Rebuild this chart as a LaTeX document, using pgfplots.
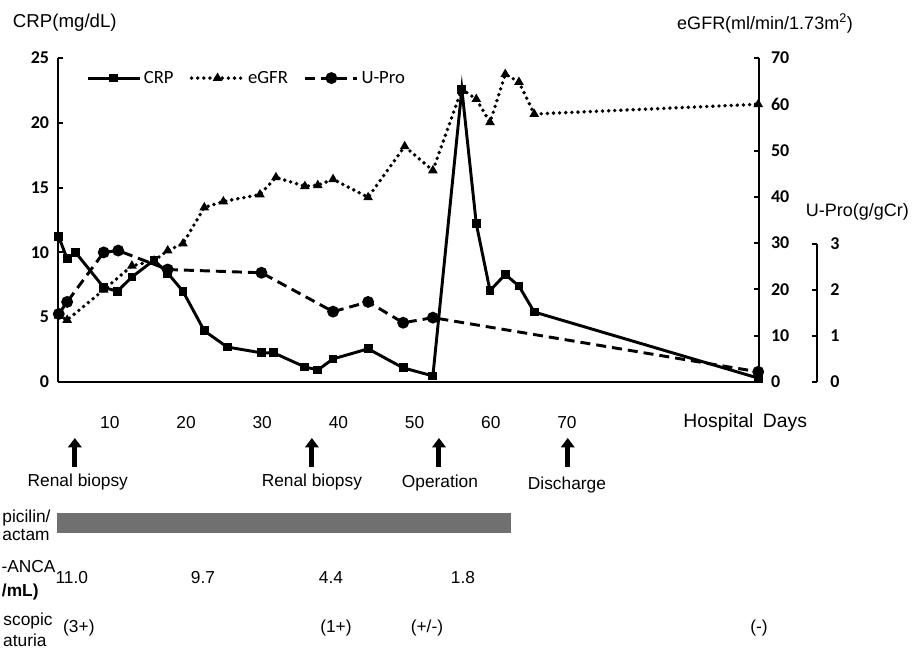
\documentclass[border=0pt]{standalone}
\usepackage{fontspec}
\setmainfont{Liberation Sans}
\newfontfamily\carlito{Carlito}
\usepackage{pgfplots}
\usepackage{pgfplotstable}
\pgfplotsset{compat=1.18}
\usetikzlibrary{arrows.meta}
\definecolor{bargray}{RGB}{112,112,112}

\pgfplotstableread{
day crp
3.3 11.2
4.4 9.5
5.5 10.0
9.2 7.3
11.0 7.0
12.9 8.1
15.8 9.4
17.6 8.4
19.6 7.0
22.4 3.95
25.4 2.7
29.9 2.25
31.5 2.25
35.6 1.16
37.3 0.93
39.3 1.78
43.9 2.56
48.5 1.09
52.4 0.47
56.2 22.6
58.1 12.2
59.9 7.05
61.9 8.3
63.7 7.4
65.7 5.4
95.1 0.3
}\crpdata

\pgfplotstableread{
day egfr
3.3 14.3
4.4 13.4
9.2 19.9
12.9 25.1
15.8 26.2
17.6 28.4
19.6 29.9
22.4 37.7
24.9 39.0
29.7 40.5
31.8 44.2
35.6 42.3
37.3 42.5
39.3 43.8
43.9 39.9
48.7 50.9
52.4 45.7
56.2 63.3
58.1 61.1
59.9 56.1
61.9 66.5
63.7 64.8
65.7 57.9
95.1 60.0
}\egfrdata

\pgfplotstableread{
day upro
3.3 1.47
4.4 1.73
9.2 2.80
11.1 2.84
17.6 2.43
29.9 2.36
39.3 1.52
43.9 1.73
48.5 1.28
52.4 1.39
95.1 0.22
}\uprodata

\pgfplotsset{
  base/.style={width=525.75pt,height=243pt,scale only axis,
    xmin=3.2,xmax=95.2,clip=false,
    /pgf/number format/assume math mode=true},
  crp/.style={black,line width=2.2pt,mark=square*,mark size=2.2pt,mark options={solid}},
  egfr/.style={black,line width=2.9pt,line cap=round,dash pattern=on 0pt off 4.6pt,
    mark=triangle*,mark size=3.2pt,mark options={solid,line cap=butt,line width=1pt}},
  upro/.style={black,line width=2.2pt,dash pattern=on 7.5pt off 4.5pt,
    mark=*,mark size=3.3pt,mark options={solid}},
  yaxstyle/.style={axis line style={line width=1.5pt},tick align=inside,
    major tick length=3.75pt,tick style={line width=1.5pt,black},
    yticklabel style={font=\carlito\bfseries\fontsize{13.5}{15}\selectfont}},
}

\begin{document}
\begin{tikzpicture}
\begin{axis}[base,yaxstyle,
  ymin=0,ymax=25,
  axis x line*=bottom, axis y line*=left,
  ytick={0,5,...,25},
  xtick={10,20,...,70},
  every x tick/.append style={draw=none},
  xticklabel style={anchor=center,yshift=-30.75pt,font=\fontsize{13}{15}\selectfont},
  yticklabel style={xshift=-3.2pt},
  legend style={draw=none,fill=none,at={(0.04,0.938)},anchor=west,
    legend columns=3,font=\carlito\fontsize{14}{16}\selectfont,inner sep=0pt,
    /tikz/every even column/.append style={column sep=10pt}},
  legend image code/.code={\draw[mark repeat=2,mark phase=2,#1] plot coordinates {(0pt,0pt) (19.5pt,0pt) (39pt,0pt)};},
]
\addplot[crp] table[x=day,y=crp]{\crpdata};
\addlegendentry{CRP}
\addlegendimage{egfr}
\addlegendentry{eGFR}
\addlegendimage{upro}
\addlegendentry{U-Pro}

% axis titles
\node[font=\fontsize{14}{16}\selectfont] at (axis cs:4.10,27.7) {CRP(mg/dL)};
\node[font=\fontsize{13.5}{15}\selectfont] at (axis cs:96.0,27.7) {eGFR(ml/min/1.73m\textsuperscript{2})};
\node[font=\fontsize{13.5}{15}\selectfont] at (axis cs:108.1,13.1) {U-Pro(g/gCr)};
\node[font=\fontsize{14.5}{16}\selectfont] at (axis cs:93.4,-3.16) {Hospital\hspace{0.5em}Days};

% events
\draw[line width=3.75pt,-{Triangle[width=10pt,length=7pt]}] (axis cs:5.41,-6.56) -- (axis cs:5.41,-4.32);
\draw[line width=3.75pt,-{Triangle[width=10pt,length=7pt]}] (axis cs:36.52,-6.56) -- (axis cs:36.52,-4.32);
\draw[line width=3.75pt,-{Triangle[width=10pt,length=7pt]}] (axis cs:53.2,-6.56) -- (axis cs:53.2,-4.32);
\draw[line width=3.75pt,-{Triangle[width=10pt,length=7pt]}] (axis cs:70.1,-6.56) -- (axis cs:70.1,-4.32);
\node[font=\fontsize{13}{15}\selectfont] at (axis cs:5.80,-7.72) {Renal biopsy};
\node[font=\fontsize{13}{15}\selectfont] at (axis cs:36.52,-7.72) {Renal biopsy};
\node[font=\fontsize{13}{15}\selectfont] at (axis cs:53.33,-7.79) {Operation};
\node[font=\fontsize{13}{15}\selectfont] at (axis cs:70.0,-7.95) {Discharge};

% treatment bar
\fill[bargray] (axis cs:3.05,-10.11) rectangle (axis cs:62.65,-11.65);

% row labels (as visible at the left edge of the figure)
\node[font=\fontsize{13}{15}\selectfont,inner sep=0pt,anchor=east] at (axis cs:2.26,-10.49) {picilin/};
\node[font=\fontsize{13}{15}\selectfont,inner sep=0pt,anchor=east] at (axis cs:2.13,-11.81) {actam};
\node[font=\fontsize{13}{15}\selectfont,inner sep=0pt,anchor=east] at (axis cs:2.91,-14.27) {-ANCA};
\node[font=\bfseries\fontsize{13}{15}\selectfont,inner sep=0pt,anchor=east] at (axis cs:0.68,-16.2) {/mL)};
\node[font=\fontsize{13}{15}\selectfont,inner sep=0pt,anchor=east] at (axis cs:2.52,-18.44) {scopic};
\node[font=\fontsize{13}{15}\selectfont,inner sep=0pt,anchor=east] at (axis cs:1.73,-19.91) {aturia};

% values
\node[font=\fontsize{13}{15}\selectfont] at (axis cs:5.02,-15.05) {11.0};
\node[font=\fontsize{13}{15}\selectfont] at (axis cs:22.22,-15.05) {9.7};
\node[font=\fontsize{13}{15}\selectfont] at (axis cs:39.02,-15.05) {4.4};
\node[font=\fontsize{13}{15}\selectfont] at (axis cs:56.35,-15.05) {1.8};
\node[font=\fontsize{13}{15}\selectfont] at (axis cs:5.94,-18.98) {(3+)};
\node[font=\fontsize{13}{15}\selectfont] at (axis cs:39.68,-18.98) {(1+)};
\node[font=\fontsize{13}{15}\selectfont] at (axis cs:51.62,-18.98) {(+/-)};
\node[font=\fontsize{13}{15}\selectfont] at (axis cs:95.2,-18.98) {(-)};
\end{axis}

\begin{axis}[base,yaxstyle,
  ymin=0,ymax=70,
  axis x line=none, axis y line*=right,
  ytick={0,10,...,70},
  yticklabel style={xshift=5.5pt},
]
\addplot[egfr] table[x=day,y=egfr]{\egfrdata};
\end{axis}

\begin{axis}[base,ymin=0,ymax=7,hide axis]
\addplot[upro] table[x=day,y=upro]{\uprodata};
\end{axis}

\begin{axis}[yaxstyle,at={(568.5pt,0pt)},anchor=south west,
  width=1pt,height=103.5pt,scale only axis,
  xmin=0,xmax=1,ymin=0,ymax=3,
  axis x line=none, axis y line*=right,
  ytick={0,1,2,3},
  /pgf/number format/assume math mode=true,
  yticklabel style={xshift=6.2pt},
]
\end{axis}

\pgfresetboundingbox
\useasboundingbox (-43.5pt,-200.25pt) rectangle (642pt,286.5pt);
\end{tikzpicture}
\end{document}
